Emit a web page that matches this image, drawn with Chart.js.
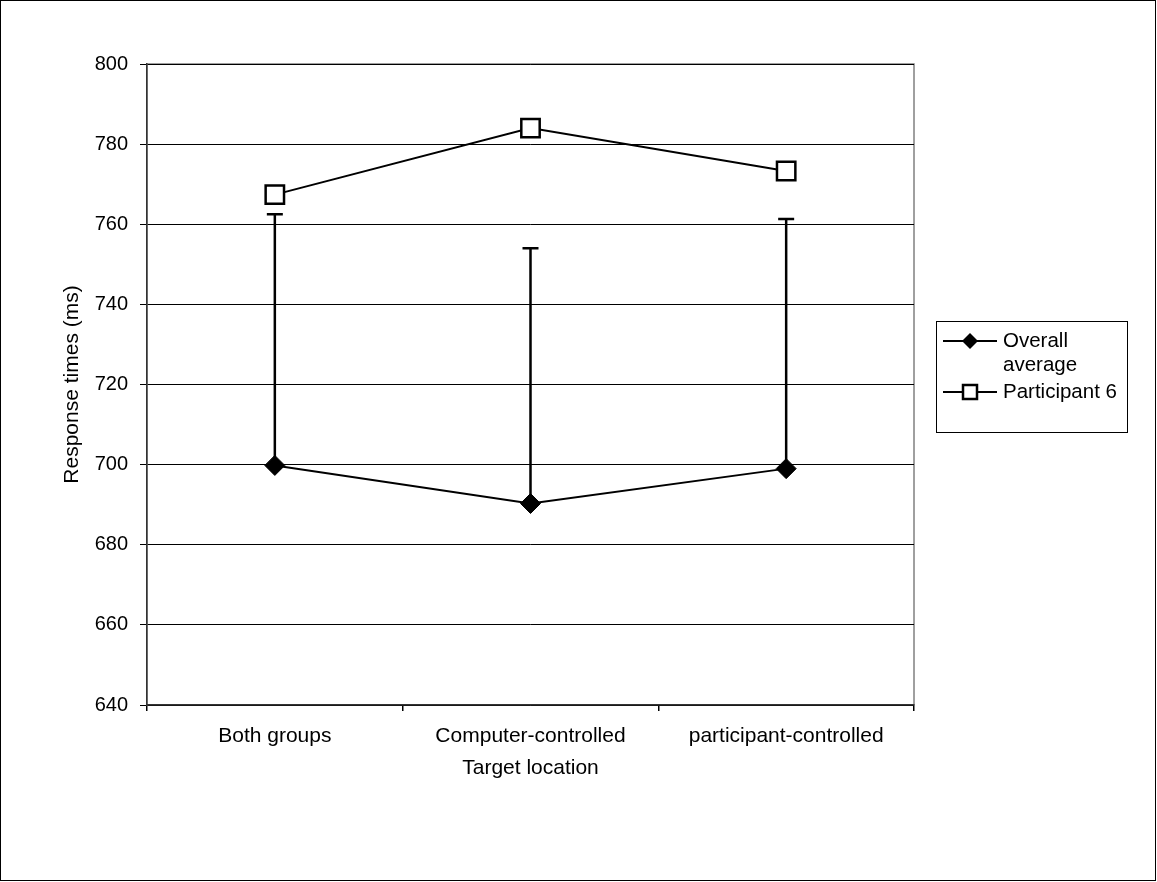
<!DOCTYPE html>
<html>
<head>
<meta charset="utf-8">
<script src="https://cdn.jsdelivr.net/npm/chart.js@4/dist/chart.umd.min.js"></script>
<style>
  body { margin: 0; background: #fff; }
  canvas { display: block; }
</style>
</head>
<body>
<canvas id="myChart" width="1157" height="882"></canvas>
<script>
// chart data
const categories = ['Both groups', 'Computer-controlled', 'participant-controlled'];
const seriesNames = ['Overall average', 'Participant 6'];
const overallAverage = [699.8, 690.3, 699];
const participant6 = [767.4, 784, 773.3];
const errorUpper = [762.5, 754, 761.3];   // top of the one-sided error bars on the average
const yTicks = [640, 660, 680, 700, 720, 740, 760, 780, 800];

const fontFamily = "'Liberation Sans', Arial, sans-serif";

// error bars drawn from the average up to errorUpper
const errorBars = {
    id: 'errorBars',
    beforeDatasetsDraw(chart) {
        const ctx = chart.ctx;
        const x = chart.scales.x;
        const y = chart.scales.y;
        ctx.save();
        ctx.strokeStyle = '#000';
        ctx.lineWidth = 2.5;
        errorUpper.forEach((top, i) => {
            const px = x.getPixelForValue(i);
            const y0 = y.getPixelForValue(overallAverage[i]);
            const y1 = y.getPixelForValue(top);
            ctx.beginPath();
            ctx.moveTo(px, y0);
            ctx.lineTo(px, y1);
            ctx.moveTo(px - 8, y1);
            ctx.lineTo(px + 8, y1);
            ctx.stroke();
        });
        ctx.restore();
    }
};

// plot frame, outer border and the boxed legend on the right
const frameAndLegend = {
    id: 'frameAndLegend',
    beforeDraw(chart) {
        const ctx = chart.ctx;
        const a = chart.chartArea;
        ctx.save();
        ctx.strokeStyle = '#808080';
        ctx.lineWidth = 1.5;
        ctx.strokeRect(a.left, a.top, a.right - a.left, a.bottom - a.top);
        ctx.restore();
    },
    afterDraw(chart) {
        const ctx = chart.ctx;
        ctx.save();
        // outer border
        ctx.strokeStyle = '#000';
        ctx.lineWidth = 1;
        ctx.strokeRect(0.5, 0.5, chart.width - 2, chart.height - 2);

        // legend box
        const bx = 936, by = 321, bw = 191, bh = 111;
        ctx.strokeRect(bx + 0.5, by + 0.5, bw, bh);
        ctx.font = '20.5px ' + fontFamily;
        ctx.textBaseline = 'middle';
        ctx.fillStyle = '#000';
        const mx = 970;
        let ty = 341;
        chart.data.datasets.forEach(ds => {
            // line + marker
            ctx.strokeStyle = '#000';
            ctx.lineWidth = 2;
            ctx.beginPath();
            ctx.moveTo(943, ty);
            ctx.lineTo(997, ty);
            ctx.stroke();
            if (ds.pointStyle === 'rectRot') {
                ctx.beginPath();
                ctx.moveTo(mx - 8, ty);
                ctx.lineTo(mx, ty - 8);
                ctx.lineTo(mx + 8, ty);
                ctx.lineTo(mx, ty + 8);
                ctx.closePath();
                ctx.fill();
            } else {
                ctx.fillStyle = '#fff';
                ctx.lineWidth = 2.5;
                ctx.fillRect(mx - 7, ty - 7, 14, 14);
                ctx.strokeRect(mx - 7, ty - 7, 14, 14);
                ctx.fillStyle = '#000';
            }
            // simple word wrap
            const words = ds.label.split(' ');
            let line = '';
            const lines = [];
            words.forEach(w => {
                const test = line ? line + ' ' + w : w;
                if (ctx.measureText(test).width > 120 && line) {
                    lines.push(line);
                    line = w;
                } else {
                    line = test;
                }
            });
            lines.push(line);
            lines.forEach(l => {
                ctx.fillText(l, 1003, ty);
                ty += 24;
            });
            ty += 3;
        });
        ctx.restore();
    }
};

const ctx = document.getElementById('myChart');
new Chart(ctx, {
    type: 'line',
    data: {
        labels: categories,
        datasets: [{
            label: seriesNames[0],
            data: overallAverage,
            borderColor: '#000',
            borderWidth: 2,
            pointStyle: 'rectRot',
            pointRadius: 10,
            pointBackgroundColor: '#000',
            pointBorderColor: '#000',
            pointBorderWidth: 1
        }, {
            label: seriesNames[1],
            data: participant6,
            borderColor: '#000',
            borderWidth: 2,
            pointStyle: 'rect',
            pointRadius: 13,
            pointBackgroundColor: '#fff',
            pointBorderColor: '#000',
            pointBorderWidth: 2.5
        }]
    },
    options: {
        responsive: false,
        animation: false,
        layout: { padding: { top: 64, right: 243, left: 0, bottom: 0 } },
        plugins: {
            legend: { display: false },
            tooltip: { enabled: false }
        },
        scales: {
            x: {
                offset: true,
                afterFit(scale) { scale.height = 177; },
                grid: {
                    offset: true,
                    drawOnChartArea: false,
                    tickLength: 6,
                    tickColor: '#000',
                    lineWidth: 1.5
                },
                border: { color: '#333', width: 1.5 },
                ticks: {
                    color: '#000',
                    padding: 13,
                    maxRotation: 0,
                    font: { family: fontFamily, size: 21 }
                },
                title: {
                    display: true,
                    text: 'Target location',
                    color: '#000',
                    padding: { top: 0, bottom: 101 },
                    font: { family: fontFamily, size: 21 }
                }
            },
            y: {
                min: 640,
                max: 800,
                afterFit(scale) { scale.width = 147; },
                afterBuildTicks(scale) { scale.ticks = yTicks.map(v => ({ value: v })); },
                grid: {
                    color: '#000',
                    lineWidth: 1,
                    tickLength: 7,
                    tickColor: '#000'
                },
                border: { color: '#333', width: 1.5 },
                ticks: {
                    color: '#000',
                    padding: 12,
                    font: { family: fontFamily, size: 20 }
                },
                title: {
                    display: true,
                    text: 'Response times (ms)',
                    color: '#000',
                    padding: { top: 60, bottom: 0 },
                    font: { family: fontFamily, size: 21 }
                }
            }
        }
    },
    plugins: [errorBars, frameAndLegend]
});
</script>
</body>
</html>
